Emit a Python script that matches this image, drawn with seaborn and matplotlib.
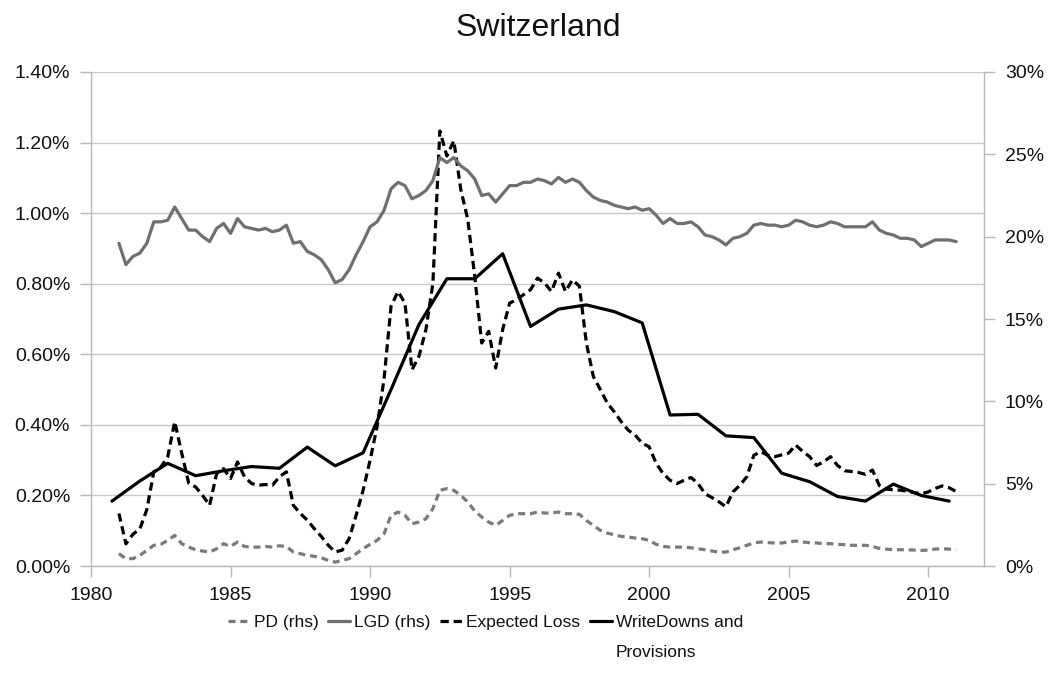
import numpy as np
import pandas as pd
import matplotlib
matplotlib.use("Agg")
import matplotlib.pyplot as plt
import seaborn as sns
from matplotlib.ticker import FuncFormatter, FixedLocator

# ---------------- data ----------------
title = "Switzerland"
# quarterly observations 1981Q1 .. 2011Q1 (121 quarters)
q_first, q_last = 1981.0, 2011.0
# annual write-downs 1980 .. 2010 (plotted at Q4 of each year)
wd_years = list(range(1980, 2011))

pd_rhs = [0.75, 0.45, 0.45, 0.65, 0.95, 1.26, 1.32, 1.56, 1.86, 1.36, 1.15, 0.99,
          0.91, 0.85, 1.05, 1.36, 1.19, 1.46, 1.19, 1.15, 1.15, 1.19, 1.15, 1.23,
          1.19, 0.85, 0.75, 0.65, 0.59, 0.51, 0.34, 0.24, 0.34, 0.45, 0.75, 1.05,
          1.32, 1.56, 1.96, 3.08, 3.28, 3.08, 2.57, 2.67, 2.87, 3.48, 4.60, 4.70,
          4.60, 4.29, 3.89, 3.34, 2.98, 2.67, 2.47, 2.77, 3.08, 3.18, 3.18, 3.18,
          3.28, 3.22, 3.22, 3.28, 3.18, 3.18, 3.14, 2.77, 2.47, 2.17, 2.00, 1.90,
          1.80, 1.76, 1.70, 1.66, 1.56, 1.32, 1.19, 1.15, 1.15, 1.15, 1.11, 1.05,
          0.99, 0.91, 0.85, 0.85, 0.99, 1.11, 1.26, 1.40, 1.46, 1.42, 1.40, 1.40,
          1.46, 1.52, 1.46, 1.42, 1.40, 1.36, 1.36, 1.32, 1.30, 1.26, 1.26, 1.26,
          1.19, 1.07, 1.03, 0.99, 0.99, 0.99, 0.97, 0.95, 0.97, 1.03, 1.05, 1.03,
          1.01]

lgd_rhs = [19.6, 18.3, 18.8, 19.0, 19.6, 20.9, 20.9, 21.0, 21.8, 21.1, 20.4, 20.4,
           20.0, 19.7, 20.5, 20.8, 20.2, 21.1, 20.6, 20.5, 20.4, 20.5, 20.3, 20.4,
           20.7, 19.6, 19.7, 19.1, 18.9, 18.6, 18.0, 17.2, 17.4, 18.0, 18.9, 19.7,
           20.6, 20.9, 21.6, 22.9, 23.3, 23.1, 22.3, 22.5, 22.8, 23.4, 24.8, 24.5,
           24.8, 24.3, 24.0, 23.5, 22.5, 22.6, 22.1, 22.6, 23.1, 23.1, 23.3, 23.3,
           23.5, 23.4, 23.2, 23.6, 23.3, 23.5, 23.3, 22.8, 22.4, 22.2, 22.1, 21.9,
           21.8, 21.7, 21.8, 21.6, 21.7, 21.3, 20.8, 21.1, 20.8, 20.8, 20.9, 20.6,
           20.1, 20.0, 19.8, 19.5, 19.9, 20.0, 20.2, 20.7, 20.8, 20.7, 20.7, 20.6,
           20.7, 21.0, 20.9, 20.7, 20.6, 20.7, 20.9, 20.8, 20.6, 20.6, 20.6, 20.6,
           20.9, 20.4, 20.2, 20.1, 19.9, 19.9, 19.8, 19.4, 19.6, 19.8, 19.8, 19.8,
           19.7]

expected_loss = [0.149, 0.063, 0.090, 0.105, 0.160, 0.267, 0.280, 0.310, 0.409, 0.320, 0.235, 0.224,
                 0.200, 0.172, 0.262, 0.276, 0.248, 0.295, 0.253, 0.234, 0.229, 0.231, 0.229, 0.253,
                 0.267, 0.172, 0.149, 0.130, 0.106, 0.084, 0.059, 0.040, 0.045, 0.078, 0.144, 0.215,
                 0.300, 0.395, 0.530, 0.736, 0.778, 0.745, 0.556, 0.594, 0.670, 0.800, 1.233, 1.162,
                 1.205, 1.067, 0.982, 0.821, 0.632, 0.665, 0.561, 0.670, 0.745, 0.755, 0.769, 0.783,
                 0.816, 0.802, 0.778, 0.830, 0.778, 0.811, 0.793, 0.632, 0.537, 0.500, 0.462, 0.437,
                 0.409, 0.385, 0.371, 0.348, 0.338, 0.291, 0.262, 0.243, 0.234, 0.243, 0.251, 0.234,
                 0.205, 0.194, 0.182, 0.168, 0.210, 0.229, 0.253, 0.314, 0.324, 0.314, 0.310, 0.315,
                 0.320, 0.343, 0.325, 0.310, 0.285, 0.295, 0.310, 0.285, 0.270, 0.268, 0.265, 0.260,
                 0.272, 0.228, 0.218, 0.216, 0.215, 0.212, 0.208, 0.205, 0.210, 0.220, 0.227, 0.222,
                 0.211]

writedowns = [0.184, 0.241, 0.291, 0.256, 0.270, 0.282, 0.277, 0.337, 0.284, 0.321,
              0.500, 0.684, 0.814, 0.814, 0.885, 0.679, 0.728, 0.740, 0.721, 0.689,
              0.428, 0.430, 0.369, 0.364, 0.263, 0.239, 0.197, 0.184, 0.232, 0.200,
              0.184]

labels = ["PD (rhs)", "LGD (rhs)", "Expected Loss", "WriteDowns and", "Provisions"]
x_ticks = [1980, 1985, 1990, 1995, 2000, 2005, 2010]
left_ticks = [0.0, 0.2, 0.4, 0.6, 0.8, 1.0, 1.2, 1.4]
right_ticks = [0, 5, 10, 15, 20, 25, 30]

# ---------------- frames ----------------
quarters = np.arange(q_first, q_last + 0.001, 0.25)
dq = pd.DataFrame({"t": quarters, "pd": pd_rhs, "lgd": lgd_rhs, "el": expected_loss})
dw = pd.DataFrame({"t": np.array(wd_years) + 0.75, "wd": writedowns})

# ---------------- style ----------------
sns.set_theme(style="white")
plt.rcParams["font.family"] = ["Liberation Sans", "DejaVu Sans"]
plt.rcParams["axes.unicode_minus"] = False

fig = plt.figure(figsize=(10.51, 6.92), dpi=100)
ax = fig.add_axes([0.0866, 0.182, 0.8497, 0.714])
ax2 = ax.twinx()

grey_line = "#6f6f6f"
lw = 2.3

sns.lineplot(data=dq, x="t", y="pd", ax=ax2, color="#7a7a7a", linewidth=lw,
             linestyle=(0, (2.2, 1.5)), legend=False)
sns.lineplot(data=dq, x="t", y="lgd", ax=ax2, color=grey_line, linewidth=lw,
             legend=False)
sns.lineplot(data=dq, x="t", y="el", ax=ax, color="black", linewidth=lw,
             linestyle=(0, (2.6, 1.5)), legend=False)
sns.lineplot(data=dw, x="t", y="wd", ax=ax, color="black", linewidth=lw,
             legend=False)

# axes limits & ticks
ax.set_xlim(1980, 2012)
ax.set_ylim(0, 1.4)
ax2.set_ylim(0, 30)
ax.xaxis.set_major_locator(FixedLocator(x_ticks))
ax.yaxis.set_major_locator(FixedLocator(left_ticks))
ax2.yaxis.set_major_locator(FixedLocator(right_ticks))
ax.yaxis.set_major_formatter(FuncFormatter(lambda v, p: f"{v:.2f}%"))
ax2.yaxis.set_major_formatter(FuncFormatter(lambda v, p: f"{v:.0f}%"))
ax.set_xlabel("")
ax.set_ylabel("")
ax2.set_ylabel("")

spine_c = "#b8b8b8"
ax.grid(axis="y", color="#c8c8c8", linewidth=1.0)
ax.grid(axis="x", visible=False)
ax2.grid(False)
for a in (ax, ax2):
    for s in a.spines.values():
        s.set_color(spine_c)
        s.set_linewidth(1.0)
    a.spines["top"].set_visible(False)
ax.spines["right"].set_visible(False)
ax2.spines["left"].set_visible(False)
ax2.spines["bottom"].set_visible(False)

ax.tick_params(axis="both", which="major", direction="out", length=8, width=1,
               color=spine_c, labelsize=14, labelcolor="#111111", pad=7)
ax.tick_params(axis="x", bottom=True, pad=7)
ax.tick_params(axis="y", left=True)
ax2.tick_params(axis="y", direction="out", length=8, width=1, color=spine_c,
                labelsize=14, labelcolor="#111111", pad=7, right=True)

fig.text(0.512, 0.9595, title, ha="center", va="center", fontsize=23, color="#111111")

handles = ax2.get_lines()[:2] + ax.get_lines()[:2]
leg = fig.legend(handles, labels[:4], loc="center", bbox_to_anchor=(0.462, 0.101),
                 ncol=4, frameon=False, fontsize=12.5, handlelength=1.25,
                 handletextpad=0.25, columnspacing=0.55)
for t in leg.get_texts():
    t.set_color("#111111")

fig.canvas.draw()
bb = leg.get_texts()[3].get_window_extent()
W, H = fig.get_size_inches() * fig.dpi
fig.text(bb.x0 / W, (bb.y0 - 30) / H, labels[4], ha="left", va="bottom",
         fontsize=12.5, color="#111111")

fig.savefig("out.png", dpi=100)
